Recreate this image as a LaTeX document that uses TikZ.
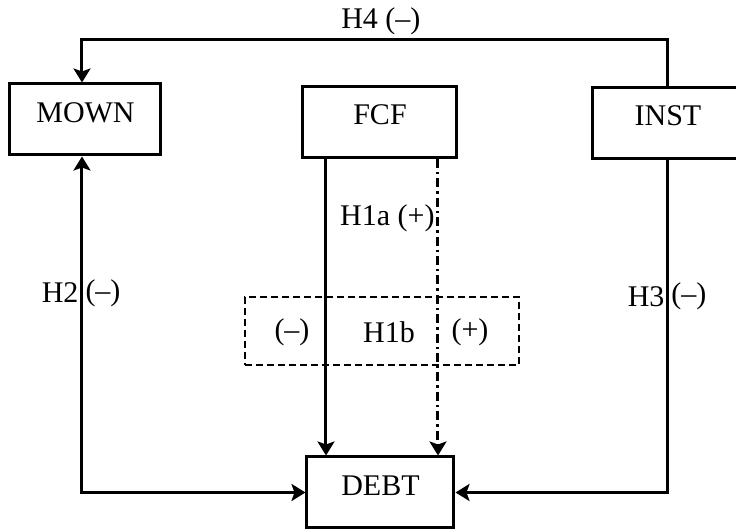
\documentclass[tikz,border=0pt]{standalone}
\usepackage{fontspec}
\setmainfont{Liberation Serif}
\usepackage{tikz}
\usetikzlibrary{shapes.geometric, arrows.meta, positioning}

\begin{document}
\begin{tikzpicture}[x=0.5pt, y=-0.5pt, >={Stealth[length=7pt, width=8.5pt, inset=1.5pt]},
    font=\fontsize{15}{18}\selectfont,
    var/.style={draw, rectangle, line width=1.5pt, minimum height=35.5pt,
        text height=11pt, text depth=8pt},
    dashbox/.style={draw, rectangle, dash pattern=on 3.5pt off 2pt, line width=1.2pt,
        minimum width=137pt, minimum height=34pt},
    conn/.style={line width=1.5pt},
    dashdot/.style={conn, dash pattern=on 4.5pt off 2pt on 1.2pt off 2pt},
    lab/.style={inner sep=1pt}]
    \useasboundingbox (0,0) rectangle (736,529);
    \clip (0,0) rectangle (736,529);

    % variables
    \node [var, minimum width=75.5pt] (mown) at (85.5,119.5) {MOWN};
    \node [var, minimum width=77pt] (fcf) at (380,122) {FCF};
    \node [var, minimum width=75pt] (inst) at (668,123) {INST};
    \node [var, minimum width=73.5pt] (debt) at (380.5,492.5) {DEBT};

    % H1b box (moderating effect)
    \node [dashbox] (h1b) at (382,331) {};
    \node (neg) at (292,332) {(--)};
    \node (h1blab) at (389,332) {H1b};
    \node (pos) at (470,332) {(+)};

    % H4: INST -> MOWN over the top
    \coordinate (h4) at (82,40);
    \draw[conn, ->] (inst.north) |- node[pos=0.745, above, inner sep=2pt] {H4 (--)} (h4) -- (h4 |- mown.north);

    % H2: MOWN <-> DEBT
    \draw[conn, <->] (h4 |- mown.south) |- node[pos=0.203, left, lab] {H2}
        node[pos=0.203, right, lab] {(--)} (debt.west);

    % H1a: FCF -> DEBT, direct and moderated
    \draw[conn, ->] ([xshift=-27pt]fcf.south) coordinate (fcfl) -- (fcfl |- debt.north);
    \draw[dashdot, ->] ([xshift=29pt]fcf.south) coordinate (fcfr)
        -- node[pos=0.2, left, lab] {H1a (+)} (fcfr |- debt.north);

    % H3: INST -> DEBT
    \draw[conn, ->] (inst.south) |- node[pos=0.205, left, lab] {H3}
        node[pos=0.205, right, lab] {(--)} (debt.east);
\end{tikzpicture}
\end{document}
